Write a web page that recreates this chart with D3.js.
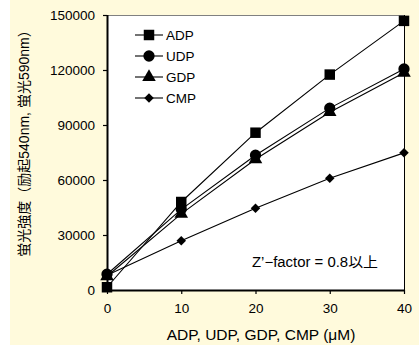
<!DOCTYPE html>
<html>
<head>
<meta charset="utf-8">
<script src="https://cdn.jsdelivr.net/npm/d3@7/dist/d3.min.js"></script>
<style>
body { margin: 0; background: #fff; }
text { font-family: "Liberation Sans", Arial, "Noto Sans CJK JP", sans-serif; fill: #000; }
</style>
</head>
<body>
<div id="chart"></div>
<script>
// concentrations (uM)
var conc = [0, 10, 20, 30, 40];
var seriesNames = ["ADP", "UDP", "GDP", "CMP"];
var adp = [1500, 48000, 85800, 117500, 146800];
var udp = [8600, 44000, 73500, 99200, 120600];
var gdp = [7500, 41500, 71300, 97000, 118500];
var cmp = [8000, 26800, 44600, 61000, 74800];
var yTicks = [0, 30000, 60000, 90000, 120000, 150000];
var xTicks = [0, 10, 20, 30, 40];

var W = 419, H = 346;
var svg = d3.select("#chart").append("svg").attr("width", W).attr("height", H);
svg.append("rect").attr("x", 10).attr("y", 0).attr("width", W - 10).attr("height", 345).attr("fill", "#fffadc");

var pLeft = 107, pRight = 404, pTop = 15, pBottom = 290;
var x = d3.scaleLinear().domain([0, 40]).range([pLeft, pRight]);
var y = d3.scaleLinear().domain([0, 150000]).range([pBottom, pTop]);

svg.append("rect").attr("x", pLeft).attr("y", pTop).attr("width", pRight - pLeft).attr("height", pBottom - pTop).attr("fill", "#fff");
svg.append("line").attr("x1", pLeft).attr("x2", pRight).attr("y1", pTop + 0.5).attr("y2", pTop + 0.5).attr("stroke", "#808080");
svg.append("line").attr("x1", pRight + 0.5).attr("x2", pRight + 0.5).attr("y1", pTop).attr("y2", pBottom).attr("stroke", "#000");

// axes
var yAxis = svg.append("g").attr("transform", "translate(" + pLeft + ",0)")
  .call(d3.axisLeft(y).tickValues(yTicks).tickSize(4).tickPadding(8).tickFormat(d3.format("d")));
var xAxis = svg.append("g").attr("transform", "translate(0," + pBottom + ")")
  .call(d3.axisBottom(x).tickValues(xTicks).tickSize(4).tickPadding(9));
[yAxis, xAxis].forEach(function(a) {
  a.select(".domain").attr("stroke", "#000").attr("stroke-width", 2);
  a.selectAll(".tick line").attr("stroke", "#000").attr("stroke-width", 1.2);
  a.selectAll("text").style("font-size", "13.5px").attr("fill", "#000");
});
yAxis.select(".domain").attr("d", "M0.5," + pBottom + "V" + pTop);
xAxis.select(".domain").attr("d", "M" + pLeft + ",0.5H" + pRight);

// symbols (diamond = square turned 45 degrees)
var shapes = [d3.symbolSquare, d3.symbolCircle, d3.symbolTriangle, d3.symbolSquare];
var sizes = [110, 100, 80, 45];
var turns = [0, 0, 0, 45];
var allData = [adp, udp, gdp, cmp];
var line = d3.line().x(function(d, i) { return x(conc[i]); }).y(function(d) { return y(d); });

allData.forEach(function(vals) {
  svg.append("path").datum(vals).attr("d", line).attr("fill", "none").attr("stroke", "#000").attr("stroke-width", 1.1);
});
allData.slice().reverse().forEach(function(vals, ri) {
  var k = allData.length - 1 - ri;
  svg.selectAll(".m" + k).data(vals).enter().append("path")
    .attr("transform", function(d, i) { return "translate(" + x(conc[i]) + "," + y(d) + ") rotate(" + turns[k] + ")"; })
    .attr("d", d3.symbol().type(shapes[k]).size(sizes[k]))
    .attr("fill", "#000");
});

// legend
var legY = [35, 56, 77, 98];
seriesNames.forEach(function(n, k) {
  var g = svg.append("g").attr("transform", "translate(0," + legY[k] + ")");
  g.append("line").attr("x1", 135).attr("x2", 163).attr("y1", 0).attr("y2", 0).attr("stroke", "#000").attr("stroke-width", 1.1);
  g.append("path").attr("transform", "translate(149,0) rotate(" + turns[k] + ")").attr("d", d3.symbol().type(shapes[k]).size(sizes[k])).attr("fill", "#000");
  g.append("text").attr("x", 166).attr("y", 5).style("font-size", "13.5px").text(n);
});

// annotation
svg.append("text").attr("x", 252).attr("y", 267).style("font-size", "14px")
  .attr("textLength", 126).attr("lengthAdjust", "spacingAndGlyphs")
  .text("Z\u2019\u2212factor = 0.8以上");

// axis titles
svg.append("text").attr("x", 261).attr("y", 340).attr("text-anchor", "middle").style("font-size", "15.5px")
  .text("ADP, UDP, GDP, CMP (\u03bcM)");
svg.append("text").attr("transform", "translate(29,140) rotate(-90)").attr("text-anchor", "middle").style("font-size", "14px")
  .text("蛍光強度（励起540nm, 蛍光590nm）");
</script>
</body>
</html>
